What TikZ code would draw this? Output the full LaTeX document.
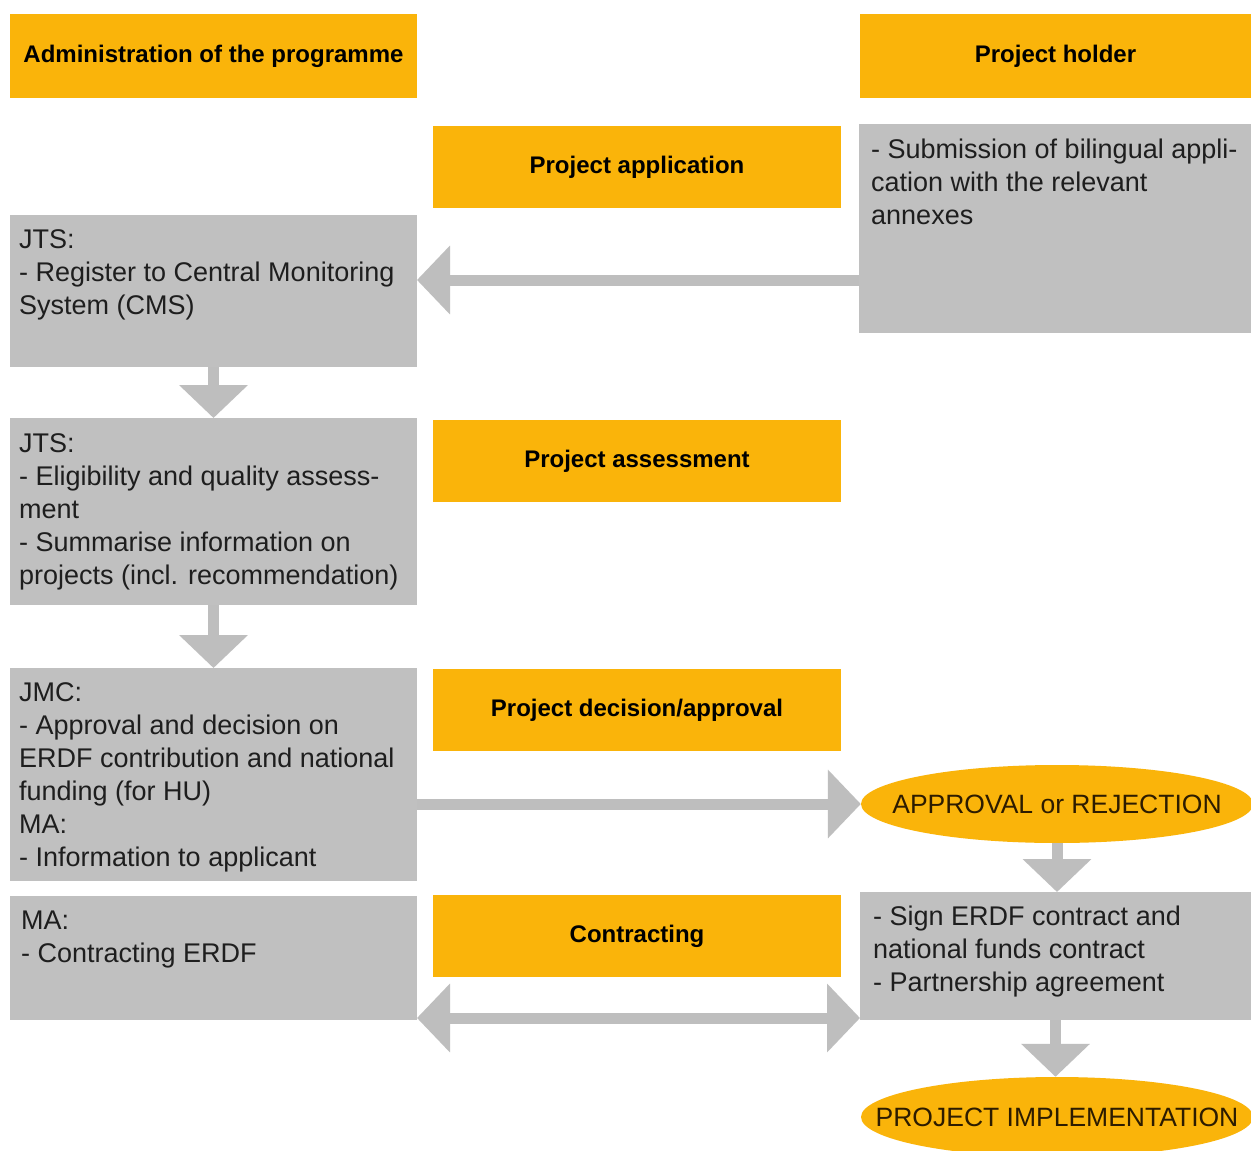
\documentclass[tikz,border=0pt]{standalone}
\usepackage{fontspec}
\setmainfont{Liberation Sans}
\usetikzlibrary{shapes.geometric,arrows.meta,calc}
\definecolor{org}{RGB}{250,180,10}
\definecolor{gry}{RGB}{192,192,192}
\definecolor{agry}{RGB}{190,190,190}
\definecolor{txt}{RGB}{30,30,30}
\definecolor{etxt}{RGB}{45,28,0}
\begin{document}
\begin{tikzpicture}[x=1pt,y=-1pt,
  box/.style={draw=none,inner sep=0pt,outer sep=0pt,anchor=north west},
  obox/.style={box,fill=org,text=black,font=\fontsize{24}{28}\selectfont\bfseries},
  gbox/.style={box,fill=gry},
  btxt/.style={inner sep=0pt,anchor=north west,align=left,text=txt,font=\fontsize{27}{33}\selectfont},
  oval/.style={ellipse,fill=org,draw=none,inner sep=0pt,text=etxt,font=\fontsize{26.5}{30}\selectfont},
  arr/.style={draw=agry,line width=11pt,-{Triangle[length=33pt,width=67pt]}},
  darr/.style={draw=agry,line width=11pt,{Triangle[length=33pt,width=67pt]}-{Triangle[length=33pt,width=67pt]}}
]
\useasboundingbox (0,0) rectangle (1251,1151);
\clip (0,0) rectangle (1251,1151);
\fill[white] (0,0) rectangle (1251,1151);

% headers
\node[obox,minimum width=407pt,minimum height=84pt] (hadm) at (10,14) {Administration of the programme};
\node[obox,minimum width=391pt,minimum height=84pt] (hph) at (860,14) {Project holder};

% phase boxes
\node[obox,minimum width=408pt,minimum height=82pt] (papp) at (433,126) {Project application};
\node[obox,minimum width=408pt,minimum height=82pt] (pass) at (433,420) {Project assessment};
\node[obox,minimum width=408pt,minimum height=82pt] (pdec) at (433,669) {Project decision/approval};
\node[obox,minimum width=408pt,minimum height=82pt] (pcon) at (433,895) {Contracting};

% grey boxes
\node[gbox,minimum width=392pt,minimum height=209pt] (sub) at (859,124) {};
\node[gbox,minimum width=407pt,minimum height=152pt] (jts1) at (10,215) {};
\node[gbox,minimum width=407pt,minimum height=187pt] (jts2) at (10,418) {};
\node[gbox,minimum width=407pt,minimum height=213pt] (jmc) at (10,668) {};
\node[gbox,minimum width=407pt,minimum height=124pt] (mab) at (10,896) {};
\node[gbox,minimum width=391pt,minimum height=128pt] (rbox) at (860,892) {};

% texts
\node[btxt] (subt) at (871,135) {\strut- Submission of bilingual appli-\\cation with the relevant\\annexes};
\node[btxt] (jts1t) at (19,225) {\strut JTS:\\- Register to Central Monitoring\\System (CMS)};
\node[btxt] (jts2t) at (19,429) {\strut JTS:\\- Eligibility and quality assess-\\ment\\- Summarise information on\\projects (incl. recommendation)};
\node[btxt] (jmct) at (19,678) {\strut JMC:\\- Approval and decision on\\ERDF contribution and national\\funding (for HU)\\MA:\\- Information to applicant};
\node[btxt] (mabt) at (21,906) {\strut MA:\\- Contracting ERDF};
\node[btxt] (rboxt) at (873,902) {\strut- Sign ERDF contract and\\national funds contract\\- Partnership agreement};

% ovals
\node[oval,minimum width=392pt,minimum height=78pt] (appr) at (1057,804) {\makebox[0pt]{APPROVAL or REJECTION}};
\node[oval,minimum width=392pt,minimum height=80pt] (impl) at (1057,1117) {\makebox[0pt]{PROJECT IMPLEMENTATION}};

% arrows
\draw[arr] (sub.west |- 0,280) -- (jts1.east |- 0,280);
\draw[arr] (jts1.south) -- (jts2.north);
\draw[arr] (jts2.south) -- (jmc.north);
\draw[arr] (jmc.east |- appr.west) -- (appr.west);
\draw[arr] (appr.south) -- (appr.south |- rbox.north);
\draw[arr] (rbox.south) -- (rbox.south |- impl.north);
\draw[darr] (mab.east |- 0,1018) -- (rbox.west |- 0,1018);
\end{tikzpicture}
\end{document}
